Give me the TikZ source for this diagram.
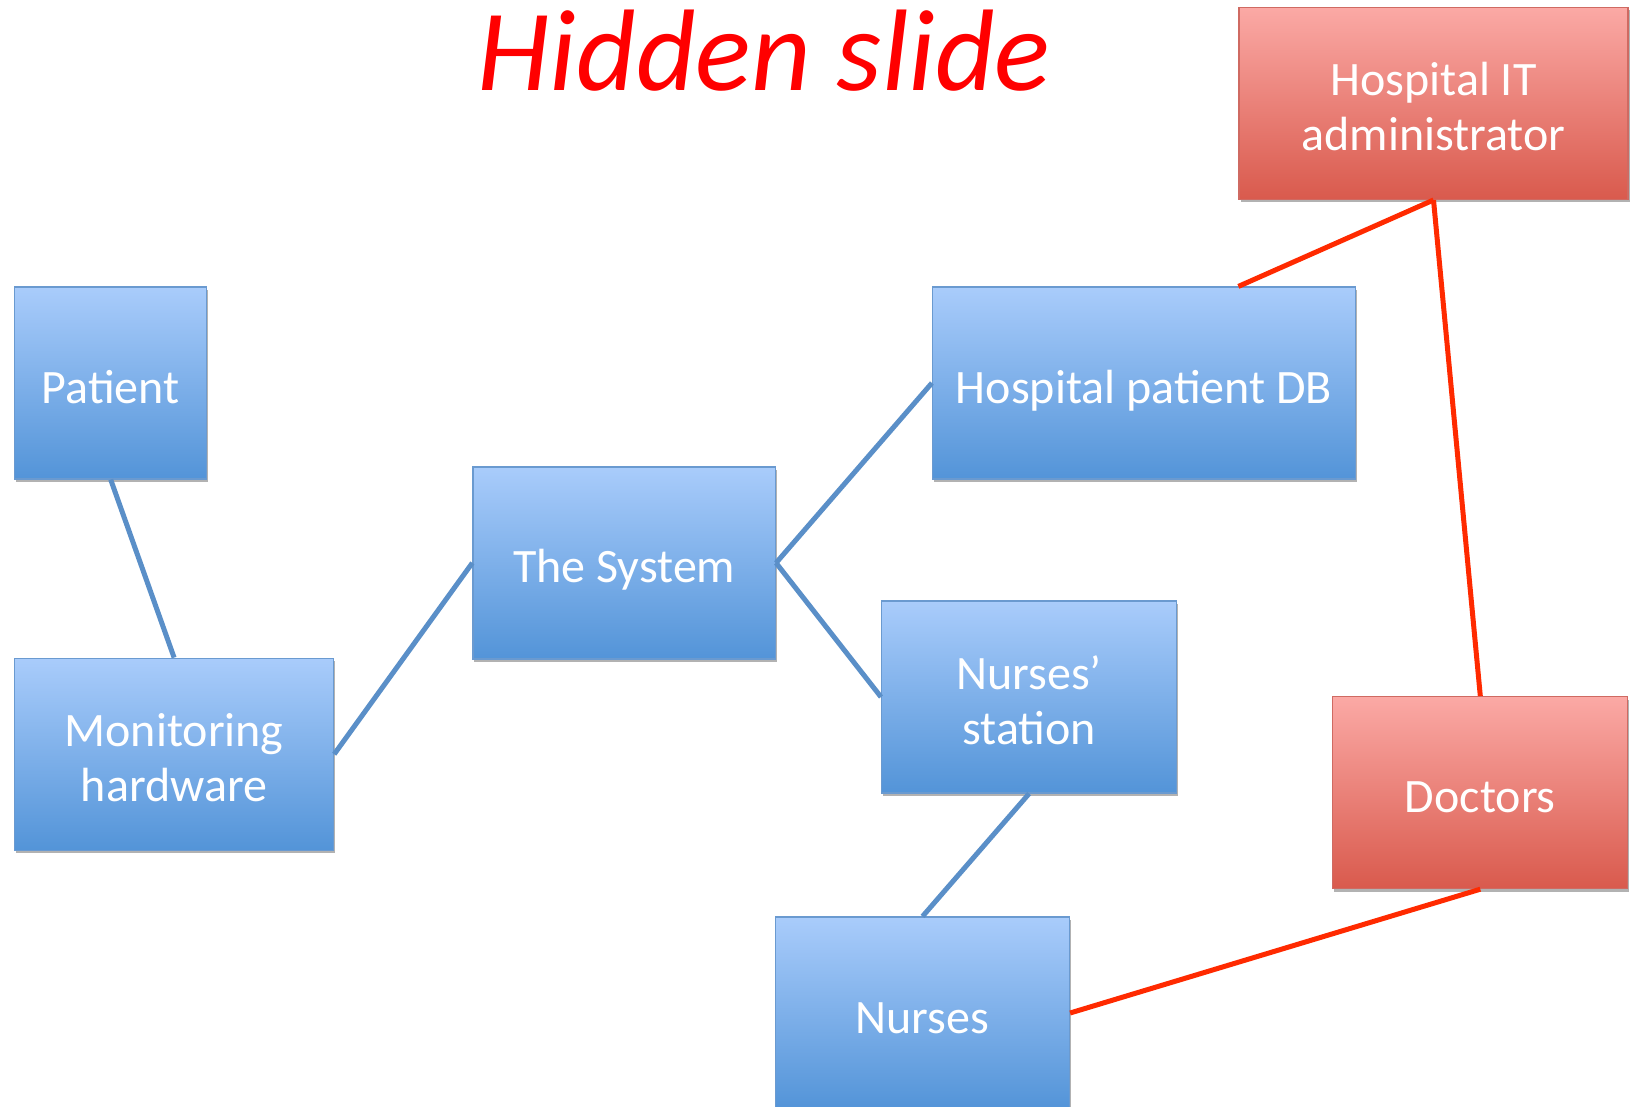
\documentclass[tikz,border=0pt]{standalone}
\usepackage{fontspec}
\setmainfont{Carlito}
\usetikzlibrary{shadows}
\definecolor{bluetop}{HTML}{A9CCFB}
\definecolor{bluebot}{HTML}{5394D8}
\definecolor{blueedge}{HTML}{6A9AD0}
\definecolor{bluelink}{HTML}{5A8FC8}
\definecolor{redtop}{HTML}{FBA9A5}
\definecolor{redbot}{HTML}{D95A4D}
\definecolor{rededge}{HTML}{CF6A62}
\definecolor{redlink}{HTML}{FF2A00}
% fixed line extents so every label sits at the same baseline offset
\newcommand{\boxtopstrut}{\rule{0pt}{53pt}}
\newcommand{\boxbotstrut}{\rule[-13pt]{0pt}{13pt}}
\begin{document}
\begin{tikzpicture}[x=1pt,y=-1pt,
  box/.style={rectangle, draw=blueedge, line width=1.2pt,
    top color=bluetop, bottom color=bluebot, text=white,
    font=\fontsize{48}{55}\selectfont, align=center, inner sep=0pt,
    minimum height=192pt,
    drop shadow={shadow xshift=1.5pt, shadow yshift=-3pt, opacity=0.3, fill=black}},
  redbox/.style={box, draw=rededge, top color=redtop, bottom color=redbot},
  bluelinkstyle/.style={draw=bluelink, line width=5pt},
  redlinkstyle/.style={draw=redlink, line width=5pt}]
  \useasboundingbox (0,0) rectangle (1630,1107);
  \fill[white] (0,0) rectangle (1630,1107);

  % title
  \node[anchor=base, text=red, font=\fontsize{116}{130}\selectfont\itshape, inner sep=0pt]
    (title) at (764,91) {Hidden slide};

  % entities
  \node[box, minimum width=192pt] (patient) at (110.7,383)
    {\boxtopstrut Patient\boxbotstrut};
  \node[box, minimum width=319pt] (monitor) at (174.1,754.2)
    {\boxtopstrut Monitoring\\hardware\boxbotstrut};
  \node[box, minimum width=302.5pt] (system) at (624.2,562.9)
    {\boxtopstrut The System\boxbotstrut};
  \node[box, minimum width=423pt] (db) at (1144,383)
    {\boxtopstrut Hospital patient DB\boxbotstrut};
  \node[box, minimum width=295pt] (station) at (1029.1,697)
    {\boxtopstrut Nurses’\\station\boxbotstrut};
  \node[box, minimum width=294pt] (nurses) at (922.5,1013)
    {\boxtopstrut Nurses\boxbotstrut};
  \node[redbox, minimum width=389pt] (it) at (1433.5,103.4)
    {\boxtopstrut Hospital IT\\administrator\boxbotstrut};
  \node[redbox, minimum width=295pt] (doctors) at (1480.3,792.6)
    {\boxtopstrut Doctors\boxbotstrut};

  \coordinate (dbtop) at (db.north -| it.west);

  % links
  \draw[bluelinkstyle] (patient.south) -- (monitor.north);
  \draw[bluelinkstyle] (monitor.east) -- (system.west);
  \draw[bluelinkstyle] (system.east) -- (db.west);
  \draw[bluelinkstyle] (system.east) -- (station.west);
  \draw[bluelinkstyle] (station.south) -- (nurses.north);
  \draw[redlinkstyle] (it.south) -- (dbtop);
  \draw[redlinkstyle] (it.south) -- (doctors.north);
  \draw[redlinkstyle] (doctors.south) -- (nurses.east);
\end{tikzpicture}
\end{document}
